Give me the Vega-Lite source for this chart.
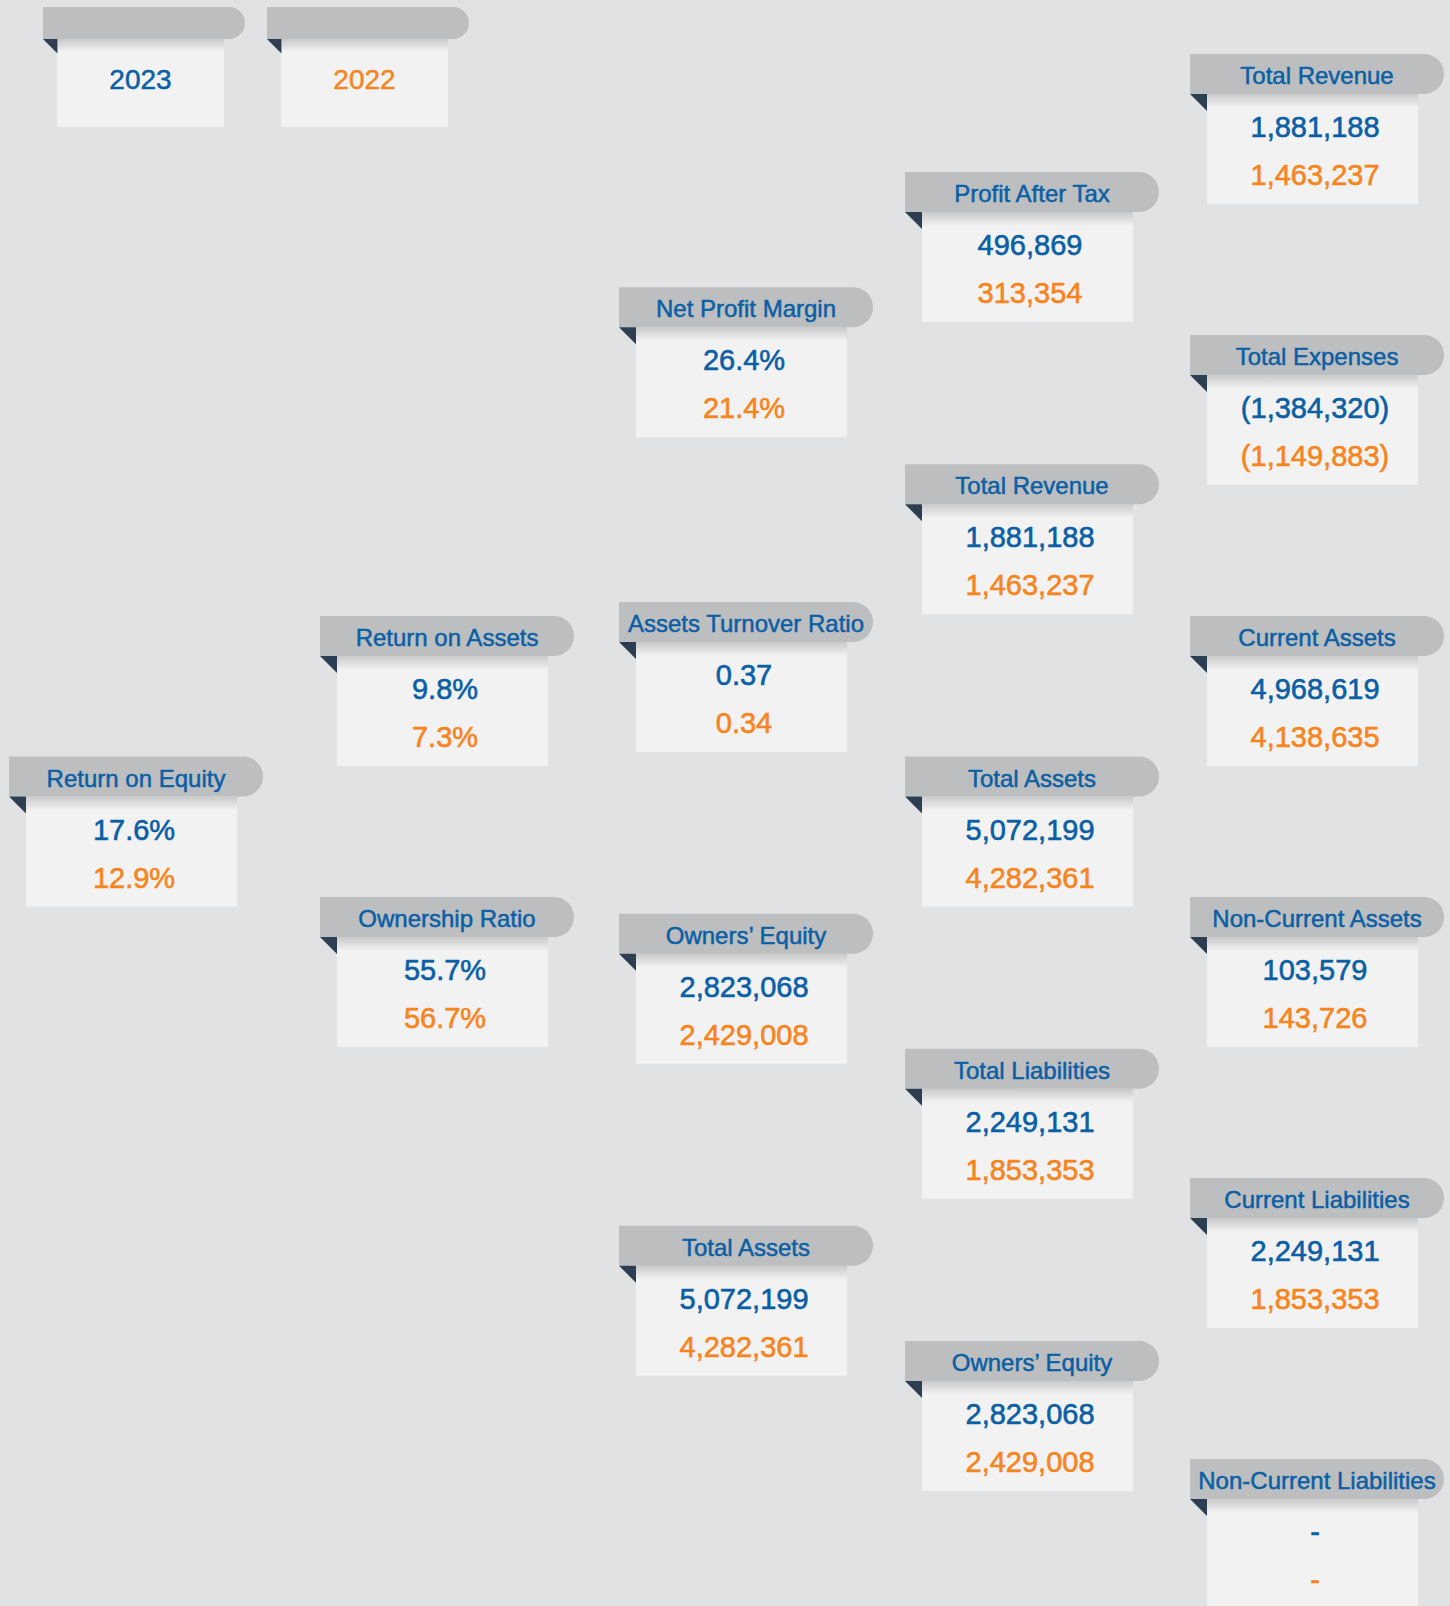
{
  "$schema": "https://vega.github.io/schema/vega-lite/v6.json",
  "width": 1450,
  "height": 1606,
  "autosize": "none",
  "padding": 0,
  "background": "#e1e2e4",
  "config": {"view": {"stroke": null}, "text": {"font": "Liberation Sans"}},
  "datasets": {
    "nodes": [
      {"level": 0, "row": 2.5, "name": "Return on Equity", "v2023": "17.6%", "v2022": "12.9%"},
      {"level": 1, "row": 2.0, "name": "Return on Assets", "v2023": "9.8%", "v2022": "7.3%"},
      {"level": 1, "row": 3.0, "name": "Ownership Ratio", "v2023": "55.7%", "v2022": "56.7%"},
      {"level": 2, "row": 0.83, "name": "Net Profit Margin", "v2023": "26.4%", "v2022": "21.4%"},
      {"level": 2, "row": 1.95, "name": "Assets Turnover Ratio", "v2023": "0.37", "v2022": "0.34"},
      {"level": 2, "row": 3.06, "name": "Owners’ Equity", "v2023": "2,823,068", "v2022": "2,429,008"},
      {"level": 2, "row": 4.17, "name": "Total Assets", "v2023": "5,072,199", "v2022": "4,282,361"},
      {"level": 3, "row": 0.42, "name": "Profit After Tax", "v2023": "496,869", "v2022": "313,354"},
      {"level": 3, "row": 1.46, "name": "Total Revenue", "v2023": "1,881,188", "v2022": "1,463,237"},
      {"level": 3, "row": 2.5, "name": "Total Assets", "v2023": "5,072,199", "v2022": "4,282,361"},
      {"level": 3, "row": 3.54, "name": "Total Liabilities", "v2023": "2,249,131", "v2022": "1,853,353"},
      {"level": 3, "row": 4.58, "name": "Owners’ Equity", "v2023": "2,823,068", "v2022": "2,429,008"},
      {"level": 4, "row": 0, "name": "Total Revenue", "v2023": "1,881,188", "v2022": "1,463,237"},
      {"level": 4, "row": 1, "name": "Total Expenses", "v2023": "(1,384,320)", "v2022": "(1,149,883)"},
      {"level": 4, "row": 2, "name": "Current Assets", "v2023": "4,968,619", "v2022": "4,138,635"},
      {"level": 4, "row": 3, "name": "Non-Current Assets", "v2023": "103,579", "v2022": "143,726"},
      {"level": 4, "row": 4, "name": "Current Liabilities", "v2023": "2,249,131", "v2022": "1,853,353"},
      {"level": 4, "row": 5, "name": "Non-Current Liabilities", "v2023": "-", "v2022": "-"}
    ],
    "years": [
      {"idx": 0, "row": -0.167, "year": "2023"},
      {"idx": 1, "row": -0.167, "year": "2022"}
    ]
  },
  "layer": [
    {
      "data": {"name": "nodes"},
      "encoding": {
        "x": {"field": "level", "type": "quantitative", "axis": null,
              "scale": {"domain": [0, 1, 2, 3, 4], "range": [9, 320, 619, 905, 1190], "nice": false, "zero": false}},
        "y": {"field": "row", "type": "quantitative", "axis": null,
              "scale": {"domain": [0, 5], "range": [54, 1459], "nice": false, "zero": false}}
      },
      "layer": [
        {"mark": {"type": "rect", "color": "#f2f2f2", "xOffset": 17, "x2Offset": 228, "yOffset": 40, "y2Offset": 150},
         "encoding": {"x2": {"field": "level"}, "y2": {"field": "row"}}},
        {"mark": {"type": "rect", "xOffset": 17, "x2Offset": 228, "yOffset": 40, "y2Offset": 54,
                  "color": {"gradient": "linear", "x1": 0, "y1": 0, "x2": 0, "y2": 1,
                            "stops": [{"offset": 0, "color": "rgba(0,0,0,0.17)"}, {"offset": 1, "color": "rgba(0,0,0,0)"}]}},
         "encoding": {"x2": {"field": "level"}, "y2": {"field": "row"}}},
        {"mark": {"type": "rect", "color": "#bdbec0", "x2Offset": 254, "y2Offset": 40,
                  "cornerRadiusTopRight": 20, "cornerRadiusBottomRight": 20},
         "encoding": {"x2": {"field": "level"}, "y2": {"field": "row"}}},
        {"mark": {"type": "point", "shape": "M -1 -1 L 1 -1 L 1 1 Z", "size": 289, "filled": true,
                  "opacity": 1, "strokeWidth": 0, "color": "#2d3e53", "xOffset": 8.5, "yOffset": 48.5},
         "encoding": {}},
        {"mark": {"type": "text", "align": "center", "baseline": "alphabetic", "fontSize": 24,
                  "fill": "#0b5fa5", "stroke": "#0b5fa5", "strokeWidth": 0.5, "xOffset": 127, "yOffset": 30},
         "encoding": {"text": {"field": "name"}}},
        {"mark": {"type": "text", "align": "center", "baseline": "alphabetic", "fontSize": 29,
                  "fill": "#0b5fa5", "stroke": "#0b5fa5", "strokeWidth": 0.6, "xOffset": 125, "yOffset": 83},
         "encoding": {"text": {"field": "v2023"}}},
        {"mark": {"type": "text", "align": "center", "baseline": "alphabetic", "fontSize": 29,
                  "fill": "#f6851f", "stroke": "#f6851f", "strokeWidth": 0.6, "xOffset": 125, "yOffset": 131},
         "encoding": {"text": {"field": "v2022"}}}
      ]
    },
    {
      "data": {"name": "years"},
      "encoding": {
        "x": {"field": "idx", "type": "quantitative", "axis": null,
              "scale": {"domain": [0, 1], "range": [43, 267], "nice": false, "zero": false}},
        "y": {"field": "row", "type": "quantitative", "axis": null,
              "scale": {"domain": [0, 5], "range": [54, 1459], "nice": false, "zero": false}}
      },
      "layer": [
        {"mark": {"type": "rect", "color": "#f2f2f2", "xOffset": 14, "x2Offset": 181, "yOffset": 32, "y2Offset": 120},
         "encoding": {"x2": {"field": "idx"}, "y2": {"field": "row"}}},
        {"mark": {"type": "rect", "xOffset": 14, "x2Offset": 181, "yOffset": 32, "y2Offset": 45,
                  "color": {"gradient": "linear", "x1": 0, "y1": 0, "x2": 0, "y2": 1,
                            "stops": [{"offset": 0, "color": "rgba(0,0,0,0.17)"}, {"offset": 1, "color": "rgba(0,0,0,0)"}]}},
         "encoding": {"x2": {"field": "idx"}, "y2": {"field": "row"}}},
        {"mark": {"type": "rect", "color": "#bdbec0", "x2Offset": 202, "y2Offset": 32,
                  "cornerRadiusTopRight": 16, "cornerRadiusBottomRight": 16},
         "encoding": {"x2": {"field": "idx"}, "y2": {"field": "row"}}},
        {"mark": {"type": "point", "shape": "M -1 -1 L 1 -1 L 1 1 Z", "size": 210, "filled": true,
                  "opacity": 1, "strokeWidth": 0, "color": "#2d3e53", "xOffset": 7.2, "yOffset": 39.2},
         "encoding": {}},
        {"mark": {"type": "text", "align": "center", "baseline": "alphabetic", "fontSize": 28,
                  "strokeWidth": 0.5, "xOffset": 97.5, "yOffset": 82},
         "encoding": {"text": {"field": "year"},
                      "fill": {"field": "year", "type": "nominal", "legend": null,
                               "scale": {"domain": ["2023", "2022"], "range": ["#0b5fa5", "#f6851f"]}},
                      "stroke": {"field": "year", "type": "nominal", "legend": null,
                                 "scale": {"domain": ["2023", "2022"], "range": ["#0b5fa5", "#f6851f"]}}}}
      ]
    }
  ],
  "resolve": {"scale": {"x": "independent"}}
}
